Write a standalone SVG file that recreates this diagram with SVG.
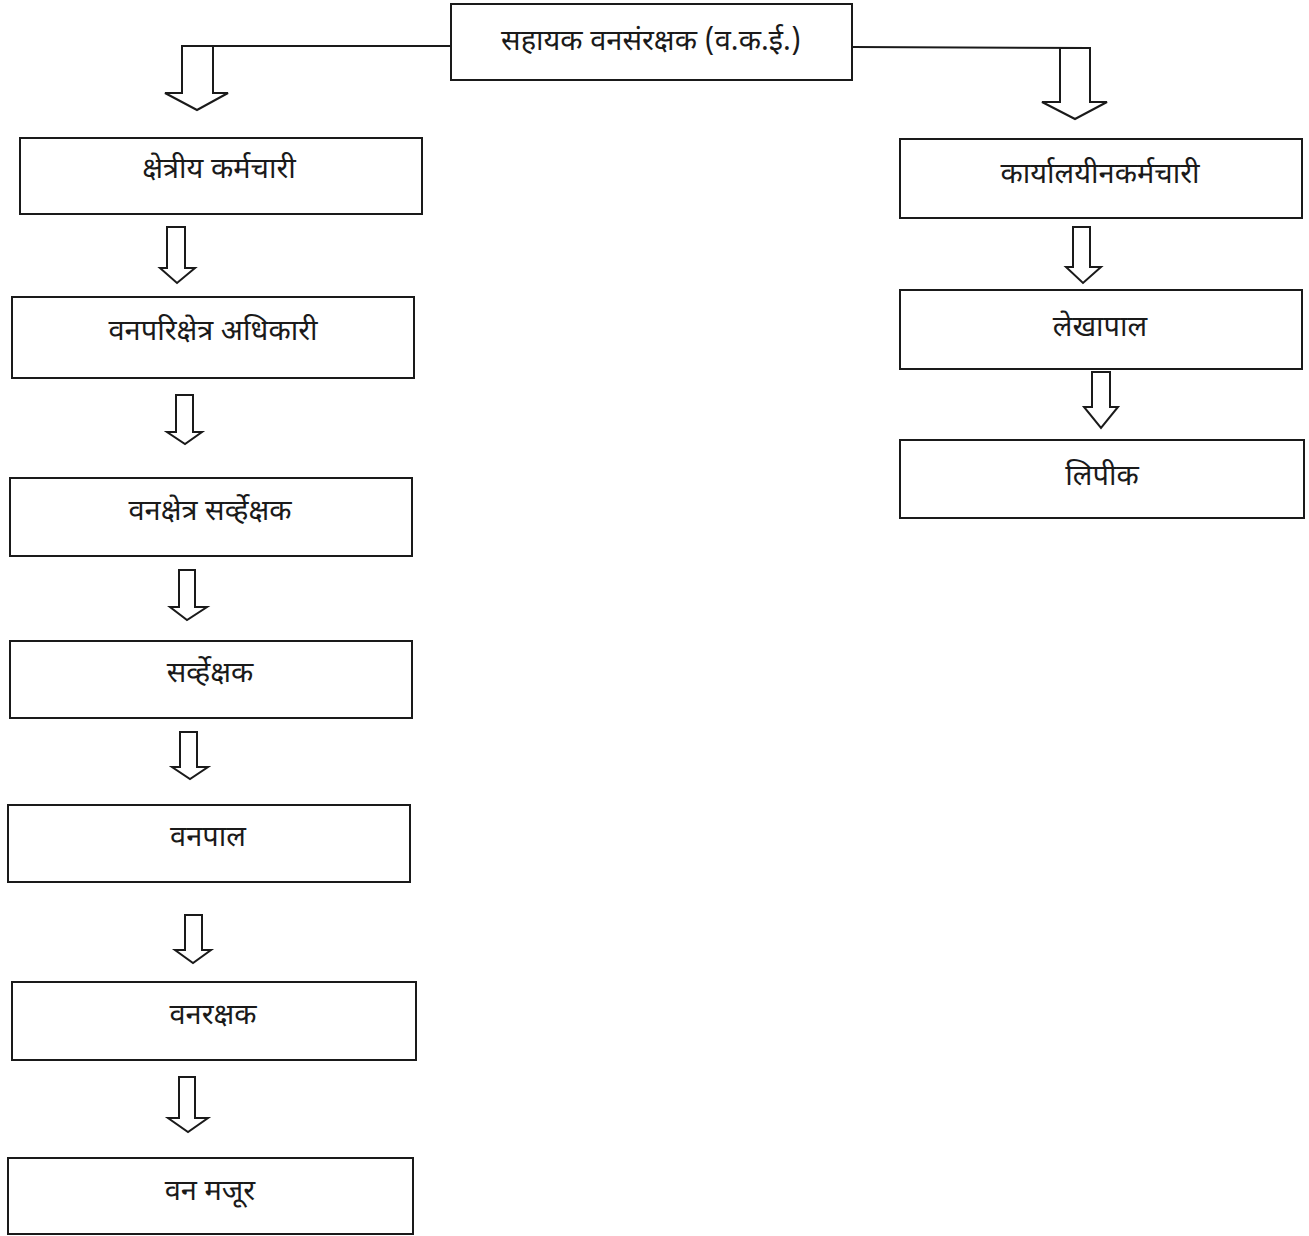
<svg xmlns="http://www.w3.org/2000/svg" width="1309" height="1236" viewBox="0 0 1309 1236">
<style>
.box{fill:#fff;stroke:#1a1a1a;stroke-width:2}
.arr{fill:#fff;stroke:#1a1a1a;stroke-width:2;stroke-linejoin:miter}
.ln{fill:none;stroke:#1a1a1a;stroke-width:2}
.t{font-family:"Noto Sans Devanagari","Noto Sans",sans-serif;font-size:29px;fill:#1a1a1a;text-anchor:middle;dominant-baseline:central}
</style>
<rect width="1309" height="1236" fill="#fff"/>
<g id="connectors">
<polyline class="ln" points="450,46 182,46"/>
<polygon class="arr" points="182,46 213,46 213,93 228,93 197,110 165,93 182,93"/>
<polyline class="ln" points="852,47 1090,48"/>
<polygon class="arr" points="1060,48 1090,48 1090,102 1107,102 1075,119 1042,102 1060,102"/>
<polygon class="arr" points="167,227 185,227 185,268 195,268 177,283 160,268 167,268"/>
<polygon class="arr" points="176,395 193,395 193,432 202,432 185,444 167,432 176,432"/>
<polygon class="arr" points="179,570 195,570 195,607 207,607 187,620 170,607 179,607"/>
<polygon class="arr" points="180,732 197,732 197,767 208,767 190,779 172,767 180,767"/>
<polygon class="arr" points="185,915 202,915 202,950 211,950 193,963 175,950 185,950"/>
<polygon class="arr" points="179,1077 195,1077 195,1118 208,1118 188,1132 168,1118 179,1118"/>
<polygon class="arr" points="1073,227 1090,227 1090,267 1101,267 1083,283 1066,267 1073,267"/>
<polygon class="arr" points="1092,372 1110,372 1110,407 1118,407 1101,428 1084,407 1092,407"/>
</g>
<g id="n0"><rect class="box" x="451" y="4" width="401" height="76"/><text class="t" x="651" y="43">सहायक वनसंरक्षक (व.क.ई.)</text></g>
<g id="n1"><rect class="box" x="20" y="138" width="402" height="76"/><text class="t" x="219" y="171">क्षेत्रीय कर्मचारी</text></g>
<g id="n2"><rect class="box" x="12" y="297" width="402" height="81"/><text class="t" x="213" y="333">वनपरिक्षेत्र अधिकारी</text></g>
<g id="n3"><rect class="box" x="10" y="478" width="402" height="78"/><text class="t" x="210" y="513">वनक्षेत्र सर्व्हेक्षक</text></g>
<g id="n4"><rect class="box" x="10" y="641" width="402" height="77"/><text class="t" x="210" y="675">सर्व्हेक्षक</text></g>
<g id="n5"><rect class="box" x="8" y="805" width="402" height="77"/><text class="t" x="208" y="839">वनपाल</text></g>
<g id="n6"><rect class="box" x="12" y="982" width="404" height="78"/><text class="t" x="213" y="1017">वनरक्षक</text></g>
<g id="n7"><rect class="box" x="8" y="1158" width="405" height="76"/><text class="t" x="210" y="1193">वन मजूर</text></g>
<g id="n8"><rect class="box" x="900" y="139" width="402" height="79"/><text class="t" x="1100" y="176">कार्यालयीनकर्मचारी</text></g>
<g id="n9"><rect class="box" x="900" y="290" width="402" height="79"/><text class="t" x="1100" y="329">लेखापाल</text></g>
<g id="n10"><rect class="box" x="900" y="440" width="404" height="78"/><text class="t" x="1102" y="478">लिपीक</text></g>
</svg>
